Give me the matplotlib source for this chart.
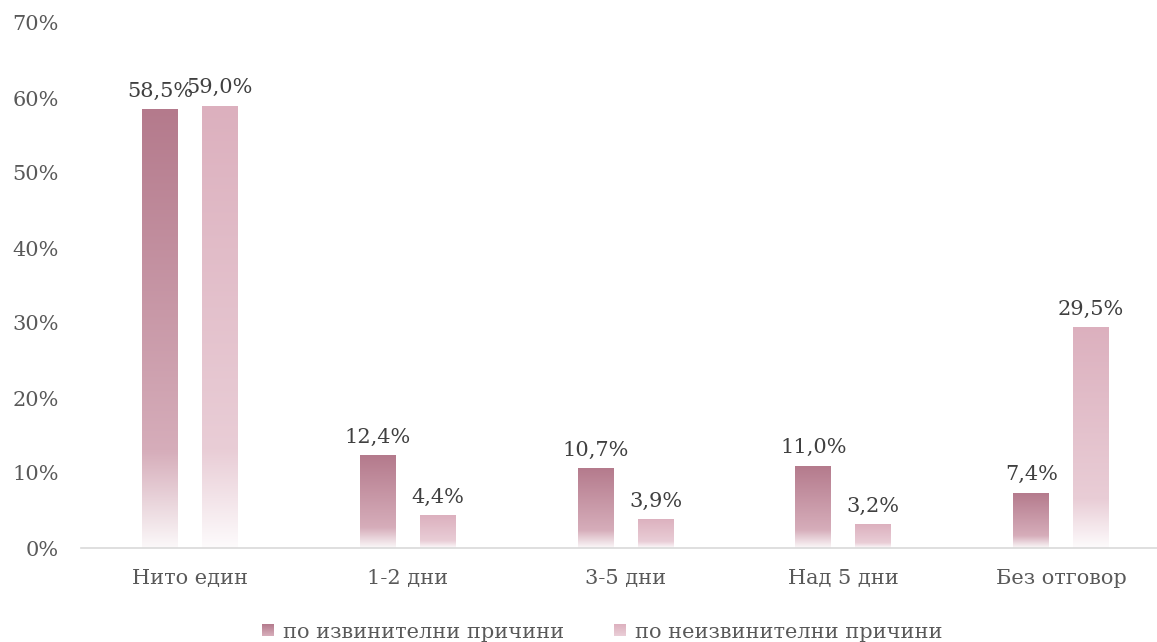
import matplotlib
matplotlib.use("Agg")
import matplotlib.pyplot as plt
import numpy as np
from matplotlib.colors import LinearSegmentedColormap
from matplotlib.patches import Rectangle
from matplotlib.legend_handler import HandlerBase
from matplotlib.ticker import PercentFormatter

categories = ["Нито един", "1-2 дни", "3-5 дни", "Над 5 дни", "Без отговор"]
series_names = ["по извинителни причини", "по неизвинителни причини"]
excused = [58.5, 12.4, 10.7, 11.0, 7.4]
unexcused = [59.0, 4.4, 3.9, 3.2, 29.5]
y_ticks = [0, 10, 20, 30, 40, 50, 60, 70]

# gradient stops (bottom -> top) for each series
grad_stops = [
    [(0.0, "#fbf8f9"), (0.22, "#d6adba"), (1.0, "#b47a8c")],
    [(0.0, "#fdfbfc"), (0.22, "#e9cdd6"), (1.0, "#dcb0be")],
]
cmaps = [LinearSegmentedColormap.from_list(f"g{i}", s) for i, s in enumerate(grad_stops)]

plt.rcParams["font.family"] = ["DejaVu Serif"]
text_color = "#595959"
fs = 15

fig = plt.figure(figsize=(11.57, 6.42), dpi=100)
ax = fig.add_axes([81 / 1157, 1 - 548 / 642, (1157 - 81) / 1157, (548 - 23) / 642])

x = np.arange(len(categories))
offset = 0.1376
width = 0.165
grad = np.linspace(0, 1, 256).reshape(-1, 1)

for vals, shift, cmap in [(excused, -offset, cmaps[0]), (unexcused, offset, cmaps[1])]:
    bars = ax.bar(x + shift, vals, width=width, color="none", edgecolor="none")
    for bar, v in zip(bars, vals):
        x0 = bar.get_x()
        img = ax.imshow(grad, cmap=cmap, origin="lower", aspect="auto",
                        extent=(x0, x0 + width, 0, v), zorder=2)
        img.set_clip_path(bar)
        ax.text(x0 + width / 2, v + 1.1, f"{v:.1f}%".replace(".", ","),
                ha="center", va="bottom", fontsize=fs, color="#404040")

ax.set_xlim(-0.5, 4.44)
ax.set_ylim(0, 70)
ax.set_yticks(y_ticks)
ax.yaxis.set_major_formatter(PercentFormatter(decimals=0))
ax.set_xticks(x)
ax.set_xticklabels(categories)
ax.tick_params(axis="both", length=0, labelsize=fs, colors=text_color)
ax.tick_params(axis="x", pad=15)
ax.tick_params(axis="y", pad=16)
for side in ["top", "right", "left"]:
    ax.spines[side].set_visible(False)
ax.spines["bottom"].set_color("#d9d9d9")
ax.spines["bottom"].set_linewidth(1.2)


class GradientSquare(HandlerBase):
    def __init__(self, cmap):
        super().__init__()
        self.cmap = cmap

    def create_artists(self, legend, orig_handle, xdescent, ydescent,
                       width, height, fontsize, trans):
        size = min(width, height) * 0.95
        x0 = width - size - xdescent
        y0 = -ydescent + (height - size) / 2
        n = 12
        arts = []
        for k in range(n):
            c = self.cmap(1 - (k + 0.5) / n * 0.8)
            r = Rectangle((x0, y0 + size * (n - k - 1) / n), size, size / n,
                          facecolor=c, edgecolor="none", transform=trans)
            arts.append(r)
        return arts


handles = [Rectangle((0, 0), 1, 1), Rectangle((0, 0), 1, 1)]
fig.legend(handles, series_names, loc="center", bbox_to_anchor=(602 / 1157, 1 - 632 / 642),
           ncol=2, frameon=False, fontsize=fs, labelcolor=text_color,
           handlelength=0.6, handleheight=0.6, handletextpad=0.4, columnspacing=2.4,
           handler_map={handles[0]: GradientSquare(cmaps[0]),
                        handles[1]: GradientSquare(cmaps[1])})

fig.savefig("out.png", dpi=100)
